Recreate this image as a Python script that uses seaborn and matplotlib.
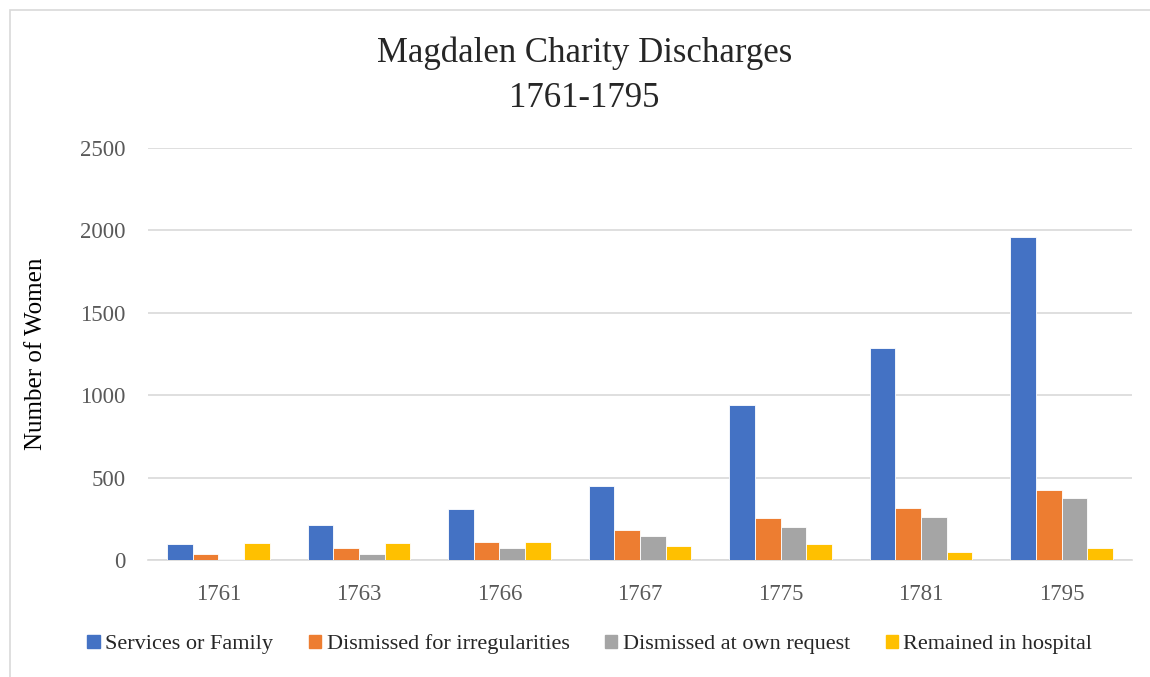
import pandas as pd
import matplotlib
matplotlib.use("Agg")
import matplotlib.pyplot as plt
import seaborn as sns
from matplotlib.patches import Rectangle

years = ['1761', '1763', '1766', '1767', '1775', '1781', '1795']
services_family = [97, 211, 307, 447, 943, 1285, 1959]
dismissed_irregular = [38, 73, 111, 183, 255, 313, 422]
dismissed_request = [6, 35, 73, 146, 203, 262, 379]
remained_hospital = [105, 101, 111, 88, 96, 47, 73]

series_names = ['Services or Family', 'Dismissed for irregularities',
                'Dismissed at own request', 'Remained in hospital']
colors = ['#4472C4', '#ED7D31', '#A5A5A5', '#FFC000']

# long-form table for seaborn
rows = []
for name, vals in zip(series_names, [services_family, dismissed_irregular,
                                      dismissed_request, remained_hospital]):
    for y, v in zip(years, vals):
        rows.append({'Year': y, 'Series': name, 'Women': v})
df = pd.DataFrame(rows)

sns.set_style("white")
plt.rcParams['font.family'] = ['Liberation Serif', 'DejaVu Serif']

fig = plt.figure(figsize=(11.5, 6.77), dpi=100)
ax = fig.add_axes([0.1287, 0.1728, 0.8556, 0.6086])

sns.barplot(data=df, x='Year', y='Women', hue='Series', hue_order=series_names,
            palette=colors, saturation=1, width=0.73, gap=0, edgecolor='white',
            linewidth=0.6, errorbar=None, ax=ax, zorder=3)

ax.set_ylim(0, 2500)
ax.set_yticks(range(0, 2501, 500))
ax.grid(axis='y', color='#d9d9d9', linewidth=1.2, zorder=0)
ax.set_axisbelow(True)
for s in ['top', 'right', 'left']:
    ax.spines[s].set_visible(False)
ax.spines['bottom'].set_color('#d9d9d9')
ax.spines['bottom'].set_linewidth(1.2)
ax.tick_params(axis='both', length=0, labelsize=16.5, colors='#595959')
ax.tick_params(axis='x', pad=17)
ax.tick_params(axis='y', pad=16)
ax.set_xlabel('')
ax.set_ylabel('Number of Women', fontsize=18, color='black', labelpad=24)

ax.get_legend().remove()
handles = [Rectangle((0, 0), 1, 1, color=c) for c in colors]
fig.legend(handles, series_names, loc='center', bbox_to_anchor=(0.513, 0.048),
           ncol=4, frameon=False, fontsize=16, handlelength=0.55,
           handleheight=0.55, handletextpad=0.25, columnspacing=1.6)

fig.text(0.508, 0.888, 'Magdalen Charity Discharges\n1761-1795', ha='center',
         va='center', fontsize=25, linespacing=1.45)

fig.patches.append(Rectangle((0.009, -0.01), 1.1, 0.995, transform=fig.transFigure,
                             fill=False, edgecolor='#d9d9d9', linewidth=1.2))

fig.savefig('out.png', dpi=100)
